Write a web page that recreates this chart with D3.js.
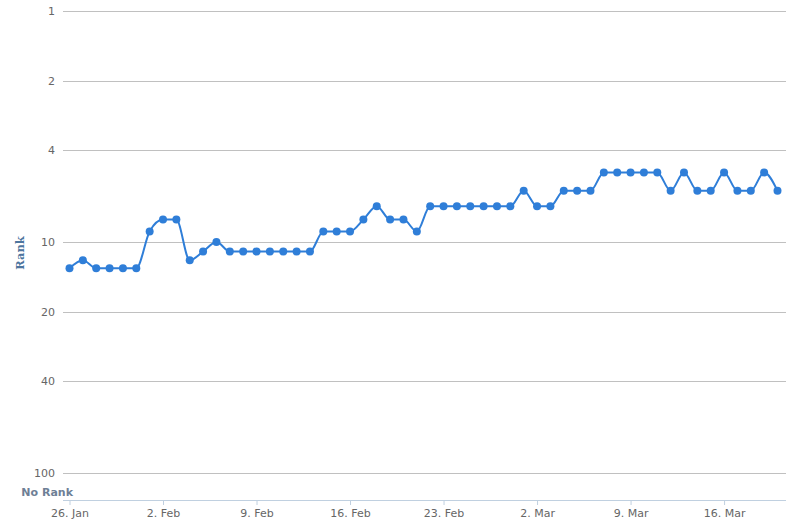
<!DOCTYPE html>
<html>
<head>
<meta charset="utf-8">
<script src="https://cdn.jsdelivr.net/npm/d3@7"></script>
<style>
  html, body { margin: 0; padding: 0; background: #fff; }
  svg { display: block; }
</style>
</head>
<body>
<svg id="chart" width="792" height="525"></svg>
<script>
// ---- data ----
const startDate = "2014-01-26";
const ranks = [13,12,13,13,13,13,9,8,8,12,11,10,11,11,11,11,11,11,11,9,9,9,8,7,8,8,9,
               7,7,7,7,7,7,7,6,7,7,6,6,6,5,5,5,5,5,6,5,6,6,5,6,6,5,6];
const yTickValues = [1, 2, 4, 10, 20, 40, 100];
const xTickDates = ["2014-01-26","2014-02-02","2014-02-09","2014-02-16","2014-02-23","2014-03-02","2014-03-09","2014-03-16"];
const monthNames = ["Jan","Feb","Mar","Apr","May","Jun","Jul","Aug","Sep","Oct","Nov","Dec"];
const yTitle = "Rank";
const noRankLabel = "No Rank";

// ---- build ----
const parse = d3.utcParse("%Y-%m-%d");
const t0 = parse(startDate);
const data = ranks.map((r, i) => ({ date: d3.utcDay.offset(t0, i), rank: r }));

const svg = d3.select("#chart");
const plotLeft = 63, plotRight = 786, plotTop = 11, plotBottom = 500;

const x = d3.scaleUtc()
  .domain([t0, data[data.length - 1].date])
  .range([69.5, 777.5]);
const y = d3.scaleLog().domain([1, 100]).range([11, 473]);

const font = "'DejaVu Sans', Verdana, sans-serif";

// grid lines + y labels
const yAxis = d3.axisLeft(y).tickValues(yTickValues).tickSize(0).tickPadding(0)
  .tickFormat(d3.format("d"));
const gy = svg.append("g").attr("transform", `translate(${plotLeft},0)`);
gy.call(yAxis);
gy.select(".domain").remove();
gy.selectAll(".tick line")
  .attr("x2", plotRight - plotLeft)
  .attr("stroke", "#C0C0C0").attr("stroke-width", 1)
  .attr("shape-rendering", "crispEdges");
gy.selectAll(".tick text")
  .attr("x", -8).attr("dy", "0.32em")
  .attr("fill", "#666").style("font-family", font).style("font-size", "11px");

// x axis
const gx = svg.append("g").attr("transform", `translate(0,${plotBottom})`);
const xAxis = d3.axisBottom(x)
  .tickValues(xTickDates.map(parse))
  .tickSizeOuter(0).tickSizeInner(5).tickPadding(4)
  .tickFormat(d => d.getUTCDate() + ". " + monthNames[d.getUTCMonth()]);
gx.call(xAxis);
gx.select(".domain")
  .attr("d", `M${plotLeft},0.5H${plotRight}`)
  .attr("stroke", "#C0D0E0").attr("stroke-width", 1);
gx.selectAll(".tick line").attr("stroke", "#C0D0E0");
gx.selectAll(".tick text")
  .attr("fill", "#666").style("font-family", font).style("font-size", "11px");

// "No Rank" label
svg.append("text")
  .attr("x", 73).attr("y", 492).attr("dy", "0.35em")
  .attr("text-anchor", "end")
  .attr("fill", "#6e7f96")
  .style("font-family", font).style("font-size", "11px").style("font-weight", "bold")
  .text(noRankLabel);

// y title
svg.append("text")
  .attr("transform", `translate(24,253) rotate(-90)`)
  .attr("text-anchor", "middle")
  .attr("fill", "#4d759e")
  .style("font-family", "'DejaVu Serif', serif").style("font-size", "11.5px").style("font-weight", "bold")
  .text(yTitle);

// line
const line = d3.line()
  .x(d => x(d.date)).y(d => y(d.rank))
  .curve(d3.curveMonotoneX);
svg.append("path")
  .datum(data)
  .attr("d", line)
  .attr("fill", "none")
  .attr("stroke", "#2f7ed8").attr("stroke-width", 2)
  .attr("stroke-linejoin", "round");

svg.append("g").selectAll("circle")
  .data(data).join("circle")
  .attr("cx", d => x(d.date)).attr("cy", d => y(d.rank))
  .attr("r", 4).attr("fill", "#2f7ed8");
</script>
</body>
</html>
